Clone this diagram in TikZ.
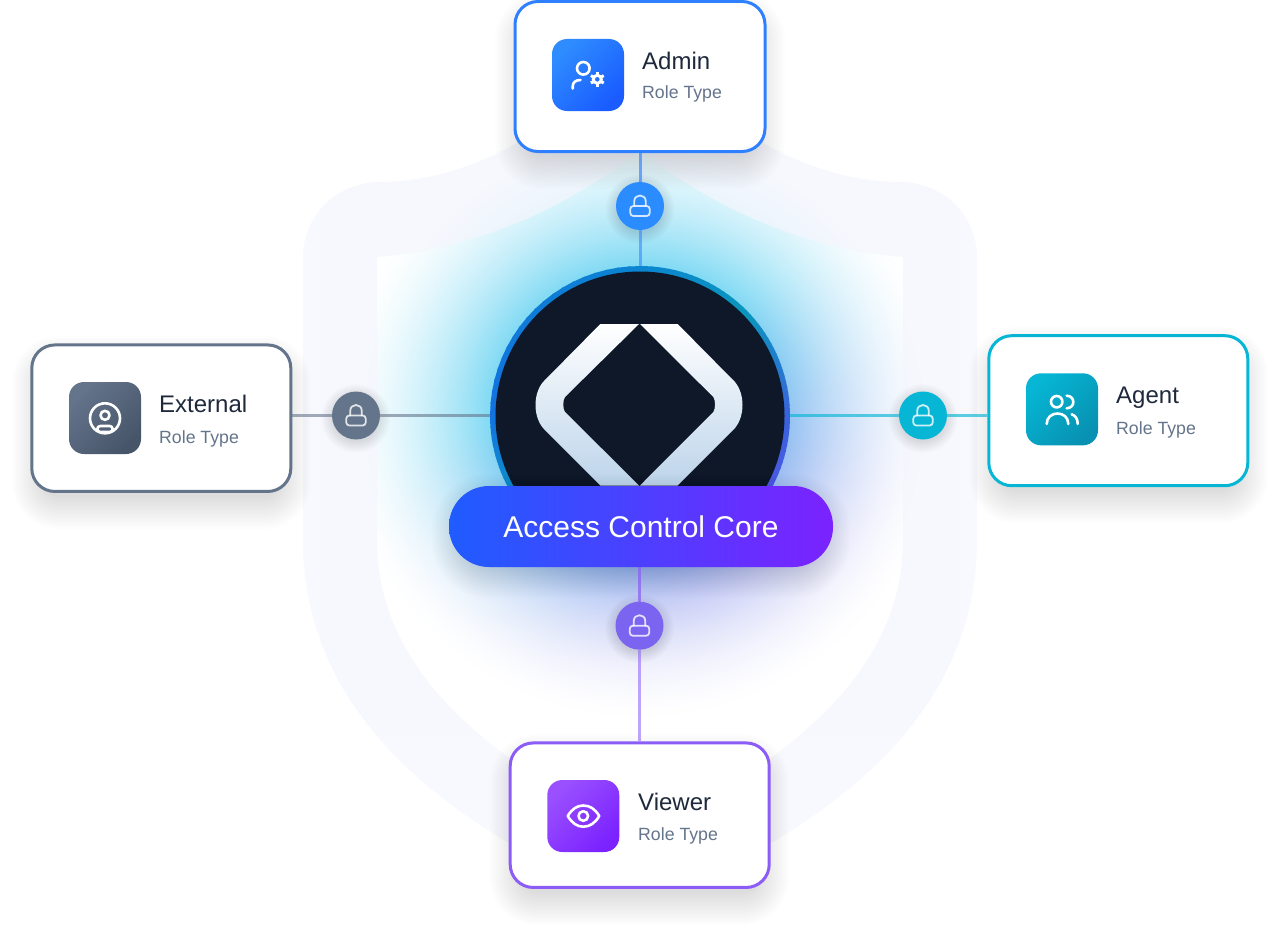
\documentclass[tikz,border=0pt]{standalone}
\usepackage{fontspec}
\setmainfont{Liberation Sans}

\definecolor{adminBlue}{HTML}{2F80FF}
\definecolor{adminDot}{HTML}{2A8CFF}
\definecolor{agentCyan}{HTML}{06B6D4}
\definecolor{externalSlate}{HTML}{64748B}
\definecolor{viewerViolet}{HTML}{8B5CF6}
\definecolor{viewerDot}{HTML}{7B64F0}
\definecolor{inkDark}{HTML}{1E293B}
\definecolor{coreDark}{HTML}{0F1829}
\definecolor{bandTint}{HTML}{F5F6FD}
\definecolor{logoPale}{HTML}{BDD4EA}
\definecolor{pillBlue}{HTML}{1F5CFF}
\definecolor{pillViolet}{HTML}{7B22FF}
\definecolor{adminIconA}{HTML}{2F8CFF}
\definecolor{adminIconB}{HTML}{1A5CFF}
\definecolor{externalIconA}{HTML}{64748B}
\definecolor{externalIconB}{HTML}{475569}
\definecolor{agentIconA}{HTML}{06B6D4}
\definecolor{agentIconB}{HTML}{0891B2}
\definecolor{viewerIconA}{HTML}{9A50FF}
\definecolor{viewerIconB}{HTML}{7B22FF}

% cyan above, blue towards the lower right, white at the rim
\pgfdeclarefunctionalshading{glowfield}{\pgfpoint{-50bp}{-50bp}}{\pgfpoint{50bp}{50bp}}{}{
    2 copy 0.044 mul exch 0.022 mul exch sub 0.25 add
    dup 0 lt {pop 0} if dup 1 gt {pop 1} if
    3 1 roll dup mul exch dup mul add sqrt
    24 div 1 exch sub dup 0 lt {pop 0} if
    1.7 exp 1.75 mul dup 1 gt {pop 1} if
    2 copy exch -0.28 mul 0.88 add mul 1 exch sub
    3 1 roll
    2 copy exch 0.29 mul 0.26 add mul 1 exch sub
    3 1 roll
    exch 0.02 mul 0.08 add mul 1 exch sub
}

% x1 y1 x2 y2 radius
\newcommand{\softshadow}[5]{
    \foreach \g in {-8,-6,...,24}
        \fill[black, opacity=0.008, rounded corners=#5+\g]
            (#1-\g,#2-\g) rectangle (#3+\g,#4+\g);
}
\newcommand{\dotshadow}[2]{
    \foreach \g in {24,26,...,34}
        \fill[black, opacity=0.018] (#1,#2+3) circle (\g);
}
% padlock around its centre
\newcommand{\lockglyph}[2]{
    \draw[lockglyph, rounded corners=3pt] (#1-9.7,#2) rectangle (#1+9.7,#2+10);
    \draw[lockglyph] (#1-5.8,#2) -- (#1-5.8,#2-4.5) .. controls (#1-5.8,#2-12.5) and (#1+5.8,#2-12.5) .. (#1+5.8,#2-4.5) -- (#1+5.8,#2);
}
\newcommand{\shieldouter}{(303,562) -- (303,258) .. controls (303,212) and (340,182) .. (380,182)
        .. controls (430,182) and (480,165) .. (520,141) -- (640,90) -- (760,141)
        .. controls (800,165) and (850,182) .. (900,182)
        .. controls (940,182) and (977,212) .. (977,258) -- (977,540)
        .. controls (977,660) and (910,760) .. (773,842) -- (640,880) -- (507,842)
        .. controls (370,760) and (303,660) .. (303,540) -- cycle}
\newcommand{\shieldinner}{(377,257) .. controls (450,252) and (550,222) .. (640,150)
        .. controls (730,222) and (830,252) .. (903,257) -- (903,540)
        .. controls (903,630) and (850,700) .. (772,757) -- (640,830) -- (508,757)
        .. controls (430,700) and (377,630) .. (377,540) -- cycle}

\begin{document}
\begin{tikzpicture}[x=1pt, y=-1pt,
    rolecard/.style={draw=#1, line width=3pt, fill=white, rounded corners=23pt, inner sep=0pt},
    iconbox/.style={rectangle, rounded corners=15pt, minimum size=72pt, inner sep=0pt, top color=#1IconA, bottom color=#1IconB, shading angle=45},
    lockdot/.style={circle, fill=#1, minimum size=48pt, inner sep=0pt},
    link/.style={draw=#1, line width=3pt},
    rolename/.style={anchor=base west, inner sep=0pt, text=inkDark, font=\fontsize{24}{28}\selectfont},
    roletype/.style={anchor=base west, inner sep=0pt, text=externalSlate, font=\fontsize{17.7}{22}\selectfont},
    glyph/.style={draw=white, line width=2.6pt, line cap=round, line join=round},
    lockglyph/.style={draw=white, draw opacity=0.8, line width=1.8pt, line cap=round, line join=round}]

    \useasboundingbox (0,0) rectangle (1280,950);

    % glow
    \shade[shading=glowfield] (320,96) rectangle (960,736);

    % shield band
    \fill[bandTint, fill opacity=0.7, even odd rule] \shieldouter \shieldinner;

    % shadows
    \softshadow{519}{17}{761}{165}{23}
    \softshadow{36}{360}{287}{505}{23}
    \softshadow{993}{351}{1244}{499}{23}
    \softshadow{514}{758}{765}{901}{23}

    % cards
    \node[rolecard=adminBlue, minimum width=250pt, minimum height=150pt] (adminCard) at (640,76.5) {};
    \node[rolecard=externalSlate, minimum width=259pt, minimum height=146.5pt] (externalCard) at (161.3,418.2) {};
    \node[rolecard=agentCyan, minimum width=259pt, minimum height=150pt] (agentCard) at (1118.3,410.7) {};
    \node[rolecard=viewerViolet, minimum width=259pt, minimum height=144.5pt] (viewerCard) at (639.7,815.2) {};

    % ring and core
    \foreach \a/\b/\ca/\cb in {180/90/1272E0/0B85D0, 90/45/0B85D0/0A96BC, 45/0/0A96BC/3A63DC, 0/-45/3A63DC/5650EA,
        -45/-135/5650EA/0A9DC0, -135/-180/0A9DC0/1272E0} {
        \definecolor{ringA}{HTML}{\ca}
        \definecolor{ringB}{HTML}{\cb}
        \foreach \p in {0,5,...,95} {
            \pgfmathsetmacro{\from}{\a+(\b-\a)*\p/100}
            \pgfmathsetmacro{\upto}{\a+(\b-\a)*(\p+6)/100}
            \draw[ringB!\p!ringA, line width=6pt] ({640+147*cos(\from)},{416-147*sin(\from)}) -- ({640+147*cos(\upto)},{416-147*sin(\upto)});
        }
    }
    \node[circle, fill=coreDark, minimum size=289pt, inner sep=0pt] (coreDisc) at (640,416) {};
    \node[circle, minimum size=300pt, inner sep=0pt] (core) at (640,416) {};

    % logo
    \shade[top color=white, bottom color=logoPale] (600.3,324) -- (639,324) -- (565,397)
        .. controls (562.7,400) and (562.7,409) .. (565,412) -- (639,485.5) -- (600.3,485.5) -- (543,428)
        .. controls (533,416) and (533,394) .. (543,382) -- cycle;
    \shade[top color=white, bottom color=logoPale] (640,324) -- (677.7,324) -- (735,382)
        .. controls (745,394) and (745,416) .. (735,428) -- (677.7,485.5) -- (640,485.5) -- (713.3,412)
        .. controls (715.6,409) and (715.6,400) .. (713.3,397) -- cycle;

    % label
    \softshadow{456}{498}{826}{574}{32}
    \node[rounded corners=40pt, minimum width=384pt, minimum height=81pt, inner sep=0pt,
        left color=pillBlue, right color=pillViolet, text=white, font=\fontsize{30}{36}\selectfont] (coreLabel) at (641,526.5) {Access Control Core};

    % locks
    \dotshadow{640}{206}
    \dotshadow{356}{415.5}
    \dotshadow{923}{415.5}
    \dotshadow{639.5}{625.7}
    \node[lockdot=adminDot] (adminLock) at (640,206) {};
    \node[lockdot=externalSlate] (externalLock) at (356,415.5) {};
    \node[lockdot=agentCyan] (agentLock) at (923,415.5) {};
    \node[lockdot=viewerDot] (viewerLock) at (639.5,625.7) {};

    \draw[link=adminBlue, draw opacity=0.65] (adminCard) -- (adminLock);
    \draw[link=adminBlue, draw opacity=0.55] (adminLock) -- (core);
    \draw[link=externalSlate, draw opacity=0.6] (externalCard.east |- externalLock) -- (externalLock);
    \draw[link=externalSlate, draw opacity=0.6] (externalLock) -- (core.west |- externalLock);
    \draw[link=agentCyan, draw opacity=0.65] (agentCard.west |- agentLock) -- (agentLock);
    \draw[link=agentCyan, draw opacity=0.65] (agentLock) -- (core.east |- agentLock);
    \draw[link=viewerViolet, draw opacity=0.55] (viewerCard.north -| viewerLock) -- (viewerLock);
    \draw[link=viewerViolet, draw opacity=0.7] (viewerLock) -- (coreLabel.south -| viewerLock);

    \lockglyph{640}{206}
    \lockglyph{356}{415.5}
    \lockglyph{923}{415.5}
    \lockglyph{639.5}{625.7}

    % admin
    \node[iconbox=admin] (adminIcon) at (588,75) {};
    \node[rolename] (adminName) at (642,69.3) {Admin};
    \node[roletype] (adminType) at (642,99) {Role Type};
    \draw[glyph] (583.3,68.3) circle (6.3);
    \draw[glyph] (572.7,88.5) -- (572.7,86.5) .. controls (572.7,82.5) and (575.5,80) .. (580.5,80);
    \fill[white, even odd rule] (597.3,79.3) circle (5.6) (597.3,79.3) circle (2.4);
    \foreach \t in {30,90,...,330}
        \draw[white, line width=3pt] ({597.3+4.5*cos(\t)},{79.3+4.5*sin(\t)}) -- ({597.3+7.4*cos(\t)},{79.3+7.4*sin(\t)});

    % external
    \node[iconbox=external] (externalIcon) at (105,418) {};
    \node[rolename] (externalName) at (159,412.7) {External};
    \node[roletype] (externalType) at (159,443.3) {Role Type};
    \draw[glyph] (105,418.3) circle (15);
    \draw[glyph] (105,415.3) circle (4.5);
    \draw[glyph, rounded corners=3pt] (97.3,426) rectangle (112.7,432);

    % agent
    \node[iconbox=agent] (agentIcon) at (1062,409.3) {};
    \node[rolename] (agentName) at (1116,403.3) {Agent};
    \node[roletype] (agentType) at (1116,434) {Role Type};
    \draw[glyph] (1056.7,401.7) circle (5.7);
    \draw[glyph] (1066.7,395.7) .. controls (1075.5,396) and (1075.5,408) .. (1066.7,408.3);
    \draw[glyph] (1046.7,424) .. controls (1046.7,410) and (1068.3,410) .. (1068.3,424);
    \draw[glyph] (1071.7,414.3) .. controls (1075.5,415.5) and (1077.7,419) .. (1077.7,424);

    % viewer
    \node[iconbox=viewer] (viewerIcon) at (583.3,816) {};
    \node[rolename] (viewerName) at (638,810) {Viewer};
    \node[roletype] (viewerType) at (638,840.7) {Role Type};
    \draw[glyph] (567.7,816) .. controls (572,809) and (577,805.5) .. (583.3,805.5)
        .. controls (590,805.5) and (595,809) .. (599.3,816)
        .. controls (595,823) and (590,826.7) .. (583.3,826.7)
        .. controls (577,826.7) and (572,823) .. (567.7,816) -- cycle;
    \draw[glyph] (583.3,816) circle (4.8);
\end{tikzpicture}
\end{document}
